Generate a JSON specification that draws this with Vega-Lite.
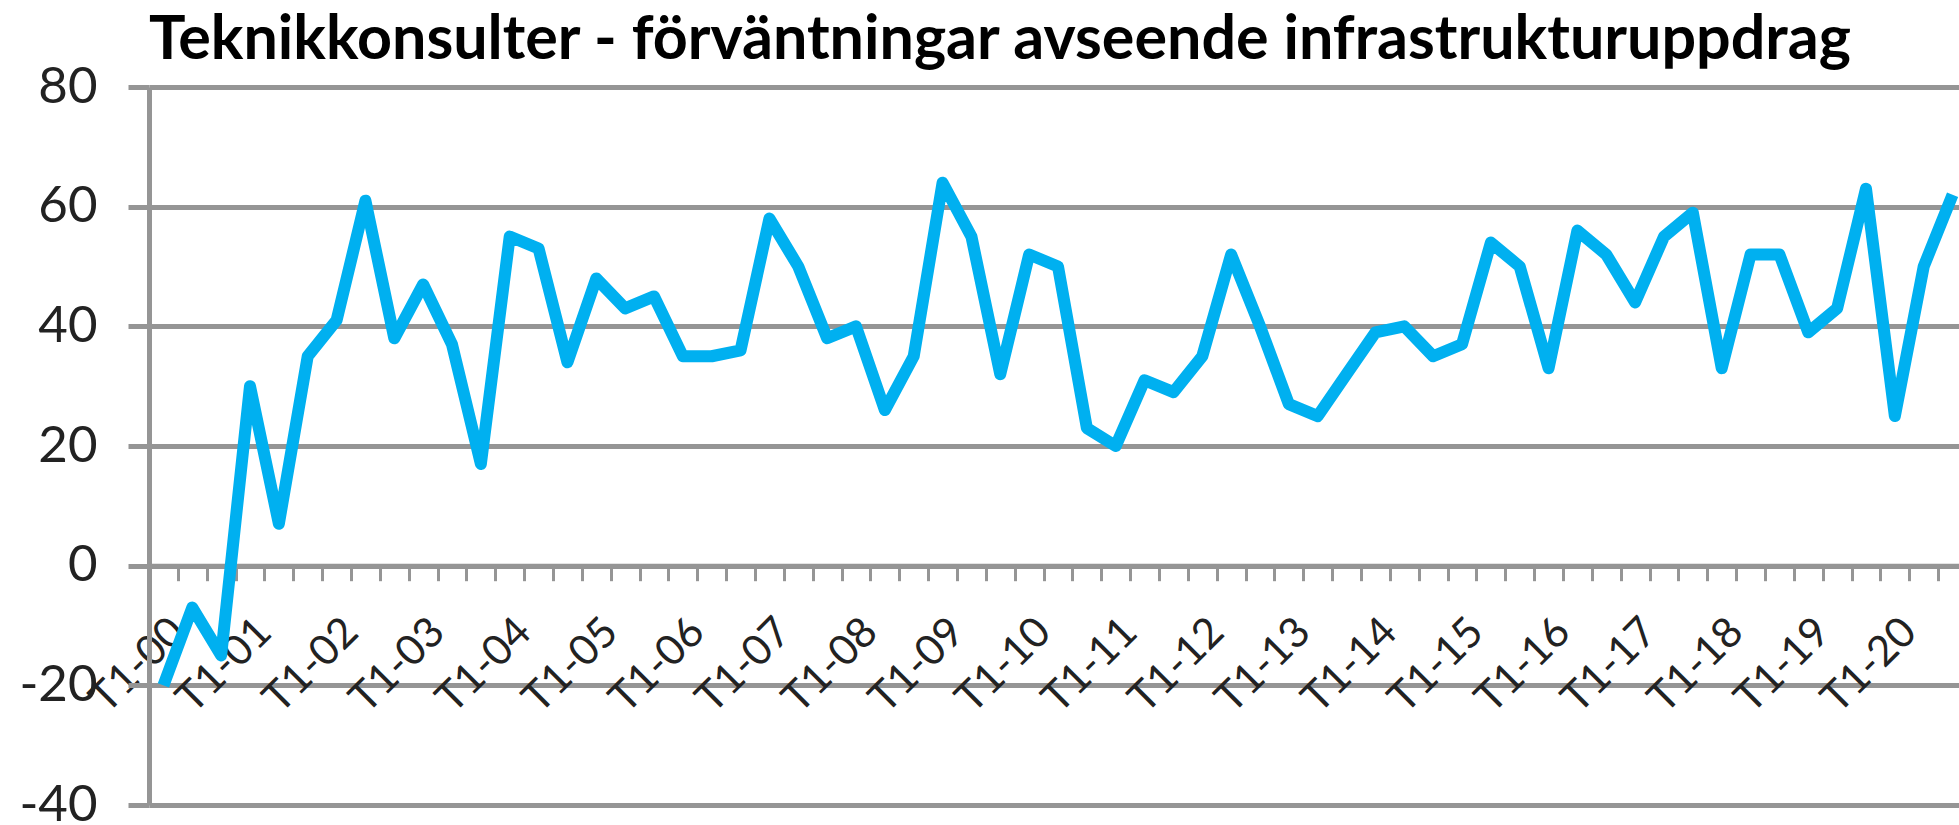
{
  "$schema": "https://vega.github.io/schema/vega-lite/v6.json",
  "autosize": {"type": "none"},
  "padding": {"left": 149, "top": 87, "right": 0, "bottom": 20},
  "width": 1810,
  "height": 718,
  "background": "white",
  "title": {
    "text": "Teknikkonsulter - förväntningar avseende infrastrukturuppdrag",
    "anchor": "start",
    "frame": "group",
    "font": "Lato",
    "fontWeight": "bold",
    "fontSize": 61,
    "color": "#000000",
    "baseline": "alphabetic",
    "offset": -59
  },
  "data": {
    "values": [
      {"period": "T1-00", "value": -20}, {"period": "T2-00", "value": -7}, {"period": "T3-00", "value": -15},
      {"period": "T1-01", "value": 30}, {"period": "T2-01", "value": 7}, {"period": "T3-01", "value": 35},
      {"period": "T1-02", "value": 41}, {"period": "T2-02", "value": 61}, {"period": "T3-02", "value": 38},
      {"period": "T1-03", "value": 47}, {"period": "T2-03", "value": 37}, {"period": "T3-03", "value": 17},
      {"period": "T1-04", "value": 55}, {"period": "T2-04", "value": 53}, {"period": "T3-04", "value": 34},
      {"period": "T1-05", "value": 48}, {"period": "T2-05", "value": 43}, {"period": "T3-05", "value": 45},
      {"period": "T1-06", "value": 35}, {"period": "T2-06", "value": 35}, {"period": "T3-06", "value": 36},
      {"period": "T1-07", "value": 58}, {"period": "T2-07", "value": 50}, {"period": "T3-07", "value": 38},
      {"period": "T1-08", "value": 40}, {"period": "T2-08", "value": 26}, {"period": "T3-08", "value": 35},
      {"period": "T1-09", "value": 64}, {"period": "T2-09", "value": 55}, {"period": "T3-09", "value": 32},
      {"period": "T1-10", "value": 52}, {"period": "T2-10", "value": 50}, {"period": "T3-10", "value": 23},
      {"period": "T1-11", "value": 20}, {"period": "T2-11", "value": 31}, {"period": "T3-11", "value": 29},
      {"period": "T1-12", "value": 35}, {"period": "T2-12", "value": 52}, {"period": "T3-12", "value": 40},
      {"period": "T1-13", "value": 27}, {"period": "T2-13", "value": 25}, {"period": "T3-13", "value": 32},
      {"period": "T1-14", "value": 39}, {"period": "T2-14", "value": 40}, {"period": "T3-14", "value": 35},
      {"period": "T1-15", "value": 37}, {"period": "T2-15", "value": 54}, {"period": "T3-15", "value": 50},
      {"period": "T1-16", "value": 33}, {"period": "T2-16", "value": 56}, {"period": "T3-16", "value": 52},
      {"period": "T1-17", "value": 44}, {"period": "T2-17", "value": 55}, {"period": "T3-17", "value": 59},
      {"period": "T1-18", "value": 33}, {"period": "T2-18", "value": 52}, {"period": "T3-18", "value": 52},
      {"period": "T1-19", "value": 39}, {"period": "T2-19", "value": 43}, {"period": "T3-19", "value": 63},
      {"period": "T1-20", "value": 25}, {"period": "T2-20", "value": 50}, {"period": "T3-20", "value": 62}
    ]
  },
  "mark": {"type": "line", "color": "#00B0F0", "strokeWidth": 12, "strokeJoin": "round"},
  "encoding": {
    "x": {
      "field": "period",
      "type": "ordinal",
      "sort": null,
      "bandPosition": 0.5,
      "scale": {"type": "band", "paddingInner": 0, "paddingOuter": 0, "range": [0, 1818]},
      "axis": {
        "title": null,
        "offset": -239.3,
        "domainColor": "#959595",
        "domainWidth": 5,
        "tickBand": "extent",
        "ticks": true,
        "tickColor": "#959595",
        "tickWidth": 3,
        "tickSize": 15,
        "labelExpr": "substring(datum.value, 0, 2) == 'T1' ? datum.value : ''",
        "labelAngle": -45,
        "labelAlign": "right",
        "labelBaseline": "top",
        "labelPadding": 30,
        "labelFont": "Lato",
        "labelFontSize": 42,
        "labelColor": "#222222",
        "labelOverlap": false,
        "labelBound": false,
        "labelFlush": false,
        "grid": false
      }
    },
    "y": {
      "field": "value",
      "type": "quantitative",
      "scale": {"domain": [-40, 80], "nice": false, "zero": false},
      "axis": {
        "title": null,
        "values": [-40, -20, 0, 20, 40, 60, 80],
        "labelExpr": "'' + datum.value",
        "grid": true,
        "gridColor": "#959595",
        "gridWidth": 5,
        "domainColor": "#959595",
        "domainWidth": 5,
        "tickColor": "#959595",
        "tickWidth": 5,
        "tickSize": 21,
        "labelPadding": 31,
        "labelFont": "Lato",
        "labelFontSize": 51,
        "labelColor": "#222222"
      }
    }
  },
  "config": {"view": {"stroke": null}}
}
